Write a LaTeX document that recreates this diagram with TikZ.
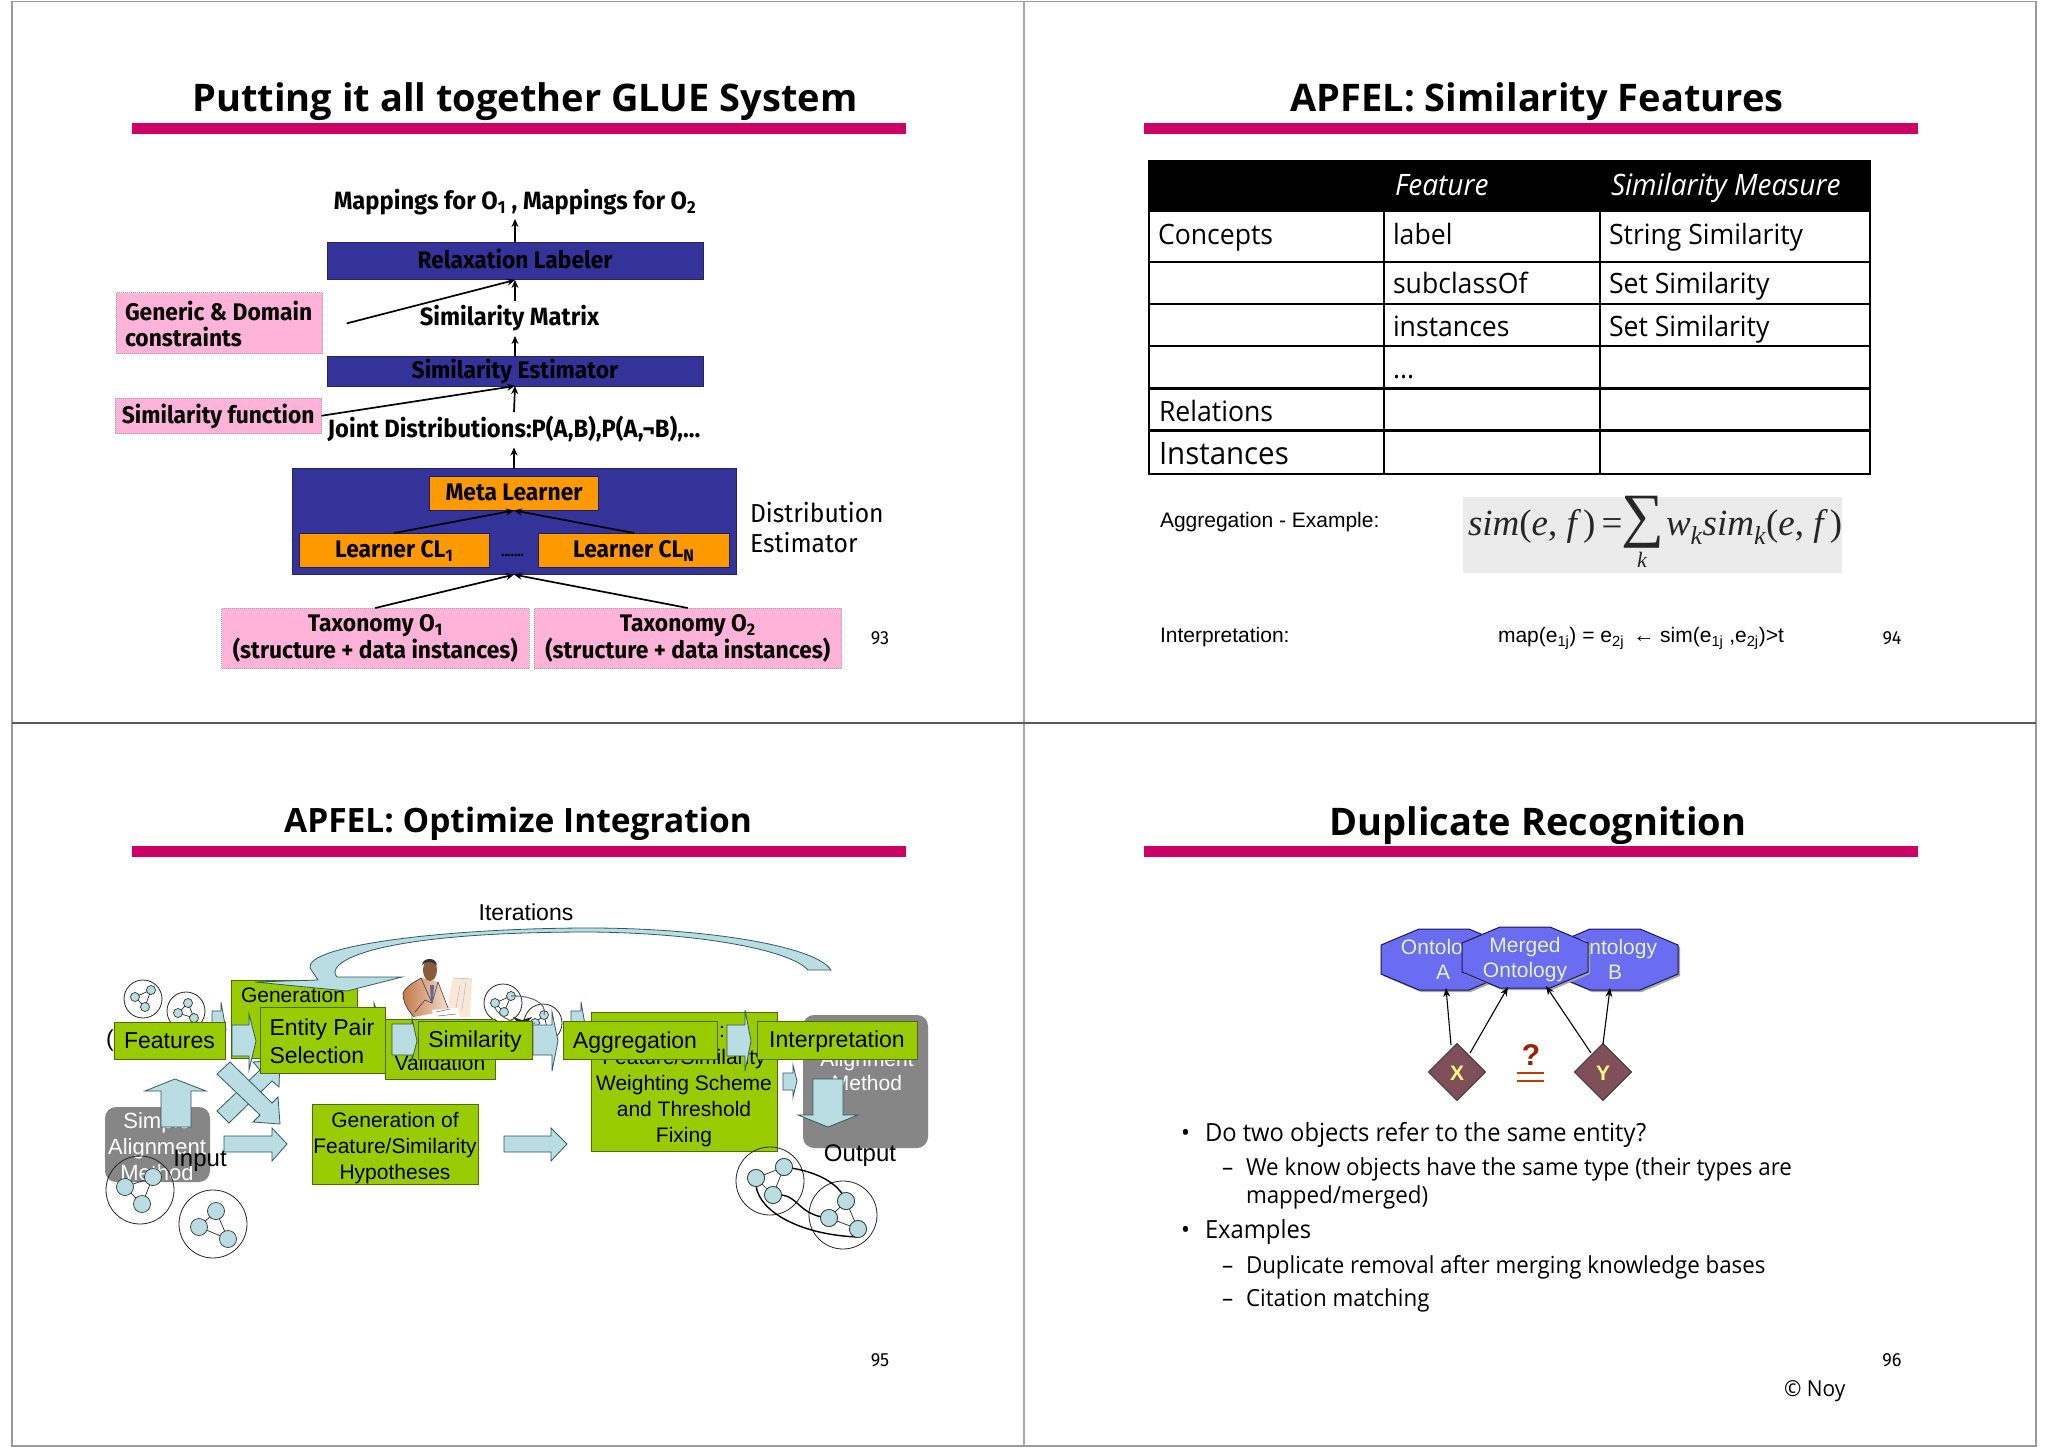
\documentclass[tikz,border=0pt]{standalone}
\usepackage{fontspec}
\usetikzlibrary{arrows.meta,calc}
\setmainfont{Liberation Sans}
\newfontfamily\titlef{Open Sans}
\newfontfamily\comicf[FakeStretch=0.95]{Fira Sans}
\newfontfamily\bodyf[FakeStretch=0.95]{Open Sans}
\newfontfamily\serf{Liberation Serif}
\newcommand\fs[2]{\fontsize{#1}{#2}\selectfont}
\newcommand\bx[6][]{\pgfmathsetmacro\bxcx{(#3+#5)/2}\pgfmathsetmacro\bxcy{(#4+#6)/2}%
 \pgfmathsetmacro\bxw{#5-#3}\pgfmathsetmacro\bxh{#6-#4}%
 \node[#1,minimum width=\bxw pt,minimum height=\bxh pt] (#2) at (\bxcx,\bxcy)}
\newcommand\ringgraph[9]{%
 \draw[ring] (#1,#2) circle (#3);
 \draw[gedge] (#4,#5) -- (#6,#7) -- (#8,#9) -- cycle;
 \node[gnode,minimum size=\rgsize] at (#4,#5) {};
 \node[gnode,minimum size=\rgsize] at (#6,#7) {};
 \node[gnode,minimum size=\rgsize] at (#8,#9) {};
}
\newcommand\octpts[2]{(#1-63,#2-16) -- (#1-25,#2-32) -- (#1+25,#2-32) -- (#1+63,#2-16) -- (#1+63,#2+13) -- (#1+25,#2+29) -- (#1-25,#2+29) -- (#1-63,#2+13) -- cycle}
\definecolor{barc}{HTML}{CC0066}
\definecolor{navy}{HTML}{333399}
\definecolor{orng}{HTML}{FF9900}
\definecolor{pnk}{HTML}{FFB3D9}
\definecolor{grn}{HTML}{99CC00}
\definecolor{grnl}{HTML}{4F6B00}
\definecolor{blk}{HTML}{B9DDE2}
\definecolor{blkl}{HTML}{2F5A62}
\definecolor{octc}{HTML}{6A6CF2}
\definecolor{octl}{HTML}{1A1A55}
\definecolor{octt}{HTML}{E4F2B8}
\definecolor{dia}{HTML}{80505A}
\definecolor{qc}{HTML}{992200}
\definecolor{jackl}{HTML}{C47A4C}
\definecolor{jackr}{HTML}{F3DCCB}
\definecolor{screen}{HTML}{F9E8D8}
\definecolor{skin}{HTML}{8A5A3C}
\tikzset{
 every node/.style={inner sep=0pt,outer sep=0pt},
 frameline/.style={draw=gray!80,line width=1.6pt},
 titlebar/.style={fill=barc,draw=none},
 titletext/.style={font=\titlef\bfseries\fs{38}{42},anchor=base},
 pageno/.style={font=\comicf\fs{19}{21}},
 single/.style={text height=15pt,text depth=0pt},
 navybox/.style={fill=navy,draw=navy!70!black,line width=1pt,font=\comicf\bfseries\fs{24}{26},single},
 orngbox/.style={fill=orng,draw=navy!60!black,line width=1pt,font=\comicf\bfseries\fs{24}{26},single},
 pinkbox/.style={fill=pnk,draw=gray!70,densely dotted,line width=1pt,font=\comicf\bfseries\fs{24}{25.5},align=center},
 plainlab/.style={font=\comicf\bfseries\fs{25}{26},single},
 arr/.style={draw=black,line width=1.7pt,-{Stealth[length=8pt,width=7pt]}},
 cell/.style={font=\bodyf\fs{28}{30},anchor=base west},
 hcell/.style={font=\bodyf\itshape\fs{29.5}{32},anchor=base west,text=white},
 rowthin/.style={line width=1.2pt},
 rowthick/.style={line width=2.4pt},
 arial/.style={font=\fs{21}{24},anchor=base west},
 form/.style={font=\serf\itshape\fs{37}{40},anchor=base west,text=black!85},
 gbox/.style={fill=grn,draw=grnl,line width=1pt,font=\fs{23}{29},single},
 gboxs/.style={fill=grn,draw=grnl,line width=1pt,font=\fs{21}{26}},
 txts/.style={font=\fs{21}{26},align=center},
 graybox/.style={fill=gray!95,rounded corners=11pt,draw=none},
 graytxt/.style={text=white,font=\fs{22}{26},align=center},
 barrow/.style={fill=blk,draw=blkl,line width=.8pt,line join=miter},
 ring/.style={draw=black!85,line width=.8pt},
 gnode/.style={circle,fill=blk,draw=black!80,line width=.7pt},
 gedge/.style={draw=black!85,line width=.7pt},
 oct/.style={fill=octc,draw=octl,line width=1pt},
 octshadow/.style={fill=gray!70,draw=none},
 octtxt/.style={text=octt,font=\fs{21}{25},align=center},
 diam/.style={fill=dia,draw=black!80,line width=1pt},
 arr4/.style={draw=black,line width=1.1pt,-{Stealth[length=9pt,width=7pt]}},
 bulleta/.style={font=\bodyf\fs{25}{28},anchor=base west},
 bulletb/.style={font=\bodyf\fs{23.5}{28},anchor=base west},
}
\begin{document}
\begin{tikzpicture}[x=1pt,y=-1pt]
\useasboundingbox (0,0) rectangle (2048,1447);
\fill[white] (0,0) rectangle (2048,1447);
% frames
\draw[frameline] (12,1.5) rectangle (2036,1446);
\draw[draw=gray!70,line width=2.2pt] (1024,1.5) -- (1024,1446);
\draw[draw=gray!70!black,line width=1.2pt] (12,723) -- (2036,723);
% title bars and titles
\fill[titlebar] (132,123) rectangle (906,134);
\fill[titlebar] (1144,123) rectangle (1918,134);
\fill[titlebar] (132,846) rectangle (906,857);
\fill[titlebar] (1144,846) rectangle (1918,857);
\node[titletext] (t1) at (525,112) {Putting it all together GLUE System};
\node[titletext] (t2) at (1537,112) {APFEL: Similarity Features};
\node[titletext] (t3) at (518,832) {\fs{33.5}{36}APFEL: Optimize Integration};
\node[titletext] (t4) at (1538,835) {Duplicate Recognition};
\node[pageno] (p93) at (880,638) {93};
\node[pageno] (p94) at (1892,638) {94};
\node[pageno] (p95) at (880,1360) {95};
\node[pageno] (p96) at (1892,1360) {96};
\node[font=\bodyf\fs{22}{24},anchor=base west] (noy) at (1784,1396) {© Noy};

% ---------- slide 1
\bx[plainlab]{map}{327}{185}{703}{219} {Mappings for O\textsubscript{1} , Mappings for O\textsubscript{2}};
\bx[navybox]{relax}{327}{243}{703}{280} {Relaxation Labeler};
\bx[plainlab]{matrix}{327}{301}{692}{336} {Similarity Matrix};
\bx[navybox]{simest}{327}{356}{703}{386} {Similarity Estimator};
\bx[plainlab]{joint}{326}{412}{702}{447.5} {Joint Distributions:P(A,B),P(A,¬B),…};
\bx[fill=navy,draw=navy!70!black,line width=1pt]{dist}{292}{468.5}{736}{574.6} {};
\bx[orngbox]{meta}{429.5}{476}{598.5}{510.5} {Meta Learner};
\bx[orngbox]{cl1}{299.5}{533}{489}{567} {Learner CL\textsubscript{1}};
\bx[orngbox]{cln}{538.7}{533}{729}{567} {Learner CL\textsubscript{N}};
\node[font=\comicf\bfseries\fs{14}{16},text=black] (dots) at (512.5,555) {.......};
\bx[pinkbox]{tax1}{221.6}{608}{529}{668.5} {Taxonomy O\textsubscript{1}\\(structure + data instances)};
\bx[pinkbox]{tax2}{534}{608}{841.5}{668.5} {Taxonomy O\textsubscript{2}\\(structure + data instances)};
\bx[pinkbox]{gen}{116}{293}{322.6}{353.5} {};
\node[font=\comicf\bfseries\fs{24}{26},align=left,anchor=west] (gent) at (125,324) {Generic \& Domain\\constraints};
\bx[pinkbox,single]{simfun}{115}{398}{321.5}{433.5} {Similarity function};
\node[font=\comicf\fs{26}{30},align=left,anchor=west] (dest) at (750,528) {Distribution\\Estimator};
\coordinate (genend) at (346.7,323.4);
\draw[arr] (relax.south |- matrix.north) -- (relax.south);
\draw[arr] (relax.north) -- (map.south);
\draw[arr] (simest.north) -- (relax.south |- matrix.south);
\draw[arr] (joint.north) -- (simest.south);
\draw[arr] (dist.north) -- (joint.south);
\draw[arr] (cl1.north) -- (meta.south);
\draw[arr] (cln.north) -- (meta.south);
\draw[arr] (tax1.north) -- (dist.south);
\draw[arr] (tax2.north) -- (dist.south);
\draw[arr] (simfun.east) -- (simest.south);
\draw[arr] (genend) -- (relax.south);

% ---------- slide 2
\fill[black] (1149,161) rectangle (1870,212);
\draw[line width=2.6pt] (1149,161) rectangle (1870,474);
\draw[rowthin] (1384,212) -- (1384,474);
\draw[rowthin] (1600,212) -- (1600,474);
\draw[rowthin] (1149,262) -- (1870,262);
\draw[rowthick] (1149,304) -- (1870,304);
\draw[rowthick] (1149,346) -- (1870,346);
\draw[rowthick] (1149,388.5) -- (1870,388.5);
\draw[rowthick] (1149,430.5) -- (1870,430.5);
\node[hcell] (hf) at (1395,196) {Feature};
\node[hcell] (hs) at (1611,196) {Similarity Measure};
\node[cell] (c1) at (1158,245) {Concepts};
\node[cell] (c2) at (1393,245) {label};
\node[cell] (c3) at (1609,245) {String Similarity};
\node[cell] (c4) at (1393,294) {subclassOf};
\node[cell] (c5) at (1609,294) {Set Similarity};
\node[cell] (c6) at (1393,336) {instances};
\node[cell] (c7) at (1609,336) {Set Similarity};
\node[cell] (c8) at (1393,378) {...};
\node[cell] (c9) at (1159,421) {Relations};
\node[cell,font=\bodyf\fs{31}{33}] (c10) at (1159,464) {Instances};
\node[arial] (agg) at (1160,527) {Aggregation - Example:};
\fill[black!8] (1463,496.6) rectangle (1842,573);
\node[form] (f1) at (1468,535) {sim\upshape(\itshape e\upshape, \itshape f\,\upshape)\,=};
\node[font=\serf\fs{60}{62},text=black!85] (fsum) at (1643,522) {∑};
\node[font=\serf\itshape\fs{22}{24},text=black!85] (fk) at (1642,560) {k};
\node[form] (f2) at (1666,535) {w\textsubscript{k}sim\textsubscript{k}\upshape(\itshape e\upshape, \itshape f\,\upshape)};
\node[arial] (interp) at (1160,642.5) {Interpretation:};
\node[arial] (mapf) at (1498,642.5) {map(e\textsubscript{1j}) = e\textsubscript{2j} \,← sim(e\textsubscript{1j} ,e\textsubscript{2j})>t};

% ---------- slide 3
% left gray box
\bx[graybox]{gray1}{105}{1107}{210}{1182} {};
\node[graytxt] (gray1t) at (157,1147) {Simple\\Alignment\\Method};
% ring graphs
\def\rgsize{9pt}
\ringgraph{143}{999}{19}{135}{997}{151}{990}{145}{1007}
\ringgraph{186}{1011}{19}{188}{1003}{178}{1013}{194}{1018}
\ringgraph{503}{1003}{19}{495}{1003}{511}{996}{504}{1012}
\ringgraph{543}{1023}{19}{544}{1015}{535}{1023}{548}{1032}
\draw[draw=gray!80!black,line width=1pt] (511,996) .. controls (530,995) and (548,1003) .. (544,1015);
\draw[draw=gray!80!black,line width=1pt] (495,1008) .. controls (500,1018) and (515,1025) .. (535,1023);
\fill[black!85] (513,1017) -- (522,1020) -- (532,1017) -- (527,1023) -- (518,1023) -- cycle;
\def\rgsize{17pt}
\ringgraph{140}{1190}{34}{125}{1187}{153}{1177}{142}{1204}
\ringgraph{213}{1224}{34}{216}{1211}{199}{1227}{228}{1239}
\draw[barrow] (161,1127) -- (161,1091) -- (145,1091) -- (175,1079) -- (206,1091) -- (191,1091) -- (191,1127) -- cycle;
\node[font=\fs{24}{26}] (inp) at (200,1161) {Input};
% back boxes
\bx[gboxs]{gena}{231}{980}{357}{1058} {};
\node[font=\fs{21}{24}] (genat) at (293,995) {Generation};
\bx[gboxs]{valid}{385}{1019}{495}{1079} {};
\node[font=\fs{21}{24}] (validt) at (440,1063) {Validation};
\bx[gboxs]{hypo}{312}{1104}{478}{1184} {};
\node[txts] (hypot) at (395,1148.5) {Generation of\\Feature/Similarity\\Hypotheses};
\bx[gboxs]{wgt}{591}{1012}{777}{1151} {};
\node[txts] (wgtt) at (684,1098) {Feature/Similarity\\Weighting Scheme\\and Threshold\\Fixing};
\node[font=\fs{21}{24}] (colon) at (722,1032) {:};
\bx[graybox]{gray2}{803}{1015}{928}{1148} {};
\node[graytxt,font=\fs{21}{24}] (gray2t) at (867,1071) {Alignment\\Method};
\node[font=\fs{24}{26}] (outp) at (860,1156) {Output};
% iteration arrow
\node[font=\fs{23}{26}] (iter) at (526,912) {Iterations};
\draw[barrow] (831,970) .. controls (815,945) and (700,928) .. (590,928)
  .. controls (450,928) and (305,945) .. (310,968) -- (318,980) -- (255,982) -- (347,991) -- (402,977) -- (337,977)
  .. controls (325,965) and (360,932) .. (590,932)
  .. controls (700,933) and (790,950) .. (808,970) -- cycle;
% cross arrows
\draw[barrow] (217,1111) -- (260,1070) -- (253,1062) -- (280,1060) -- (279,1087) -- (272,1081) -- (229,1123) -- cycle;
\draw[barrow] (230,1062) -- (272,1103) -- (278,1097) -- (280,1124) -- (253,1122) -- (260,1115) -- (217,1074) -- cycle;
\draw[barrow] (224,1136) -- (272,1136) -- (272,1128) -- (287,1144) -- (272,1161) -- (272,1152) -- (224,1152) -- cycle;
\draw[barrow] (504,1136) -- (551,1136) -- (551,1128) -- (567,1144) -- (551,1161) -- (551,1152) -- (504,1152) -- cycle;
% thin arrows
\draw[barrow] (212,1011) -- (221,1011) -- (221,1002) -- (226,1030) -- (212,1030) -- cycle;
\draw[barrow] (571,1011) -- (581,1011) -- (581,1002) -- (586,1030) -- (571,1030) -- cycle;
\draw[barrow] (374,1012) -- (374,1003) -- (377,1012) -- cycle;
\draw[barrow] (232,1025) -- (249,1025) -- (249,1014) -- (256,1041) -- (249,1070) -- (249,1056) -- (232,1056) -- cycle;
\draw[barrow] (392,1024) -- (412,1024) -- (412,1018) -- (417,1041) -- (412,1060) -- (412,1055) -- (392,1055) -- cycle;
\draw[barrow] (533,1025) -- (552,1025) -- (552,1012) -- (558,1041) -- (552,1071) -- (552,1055) -- (533,1055) -- cycle;
\draw[barrow] (727,1025) -- (745,1025) -- (745,1010) -- (751,1041) -- (745,1071) -- (745,1056) -- (727,1056) -- cycle;
\draw[barrow] (783,1073) -- (793,1073) -- (793,1065) -- (797,1081) -- (793,1097) -- (793,1090) -- (783,1090) -- cycle;
\draw[barrow] (813,1079) -- (843,1079) -- (843,1115) -- (858,1115) -- (828,1127) -- (798,1115) -- (813,1115) -- cycle;
% man at computer
\fill[screen] (453,978) -- (472,979) -- (470,1017) -- (448,1017) .. controls (448,1000) and (450,988) .. (453,978) -- cycle;
\draw[gray!50,line width=.6pt] (453,978) -- (472,979);
\draw[gray!50,line width=.6pt] (460,985) -- (456,1008);
\draw[gray!50,line width=.6pt] (466,982) -- (462,1010);
\shade[left color=jackl,right color=jackr] (403,993) .. controls (407,985) and (415,982) .. (421,978) -- (438,982) -- (448,1008) -- (440,1012) -- (414,1017) .. controls (408,1010) and (403,1003) .. (403,993) -- cycle;
\draw[black!75,line width=.7pt] (403,993) .. controls (407,985) and (415,982) .. (421,978);
\draw[black!75,line width=.7pt] (403,993) .. controls (403,1003) and (408,1010) .. (414,1017);
\draw[black!75,line width=.6pt] (438,982) -- (448,1008);
\draw[black!75,line width=.6pt] (421,978) -- (432,1003) -- (438,982);
\draw[black!75,line width=.6pt] (415,1012) -- (425,1000) -- (432,1003);
\fill[blue!20!gray] (430,985) -- (434,985) -- (433,1002) -- (431,1002) -- cycle;
\fill[white] (432,1010) -- (458,1008) -- (460,1017) -- (434,1018) -- cycle;
\draw[black!60,line width=.5pt] (436,1012) -- (450,1009) (438,1016) -- (456,1014);
\fill[skin] (430,970) ellipse (7 and 11);
\fill[black!80] (422,965) .. controls (423,957) and (436,957) .. (437,965) .. controls (432,961) and (426,961) .. (422,965) -- cycle;
% circle graphs output
\ringgraph{770}{1181}{34}{756}{1178}{784}{1167}{773}{1195}
\ringgraph{843}{1215}{34}{846}{1201}{829}{1218}{858}{1229}
\draw[line width=1.4pt] (784,1167) .. controls (810,1170) and (838,1180) .. (846,1201);
\draw[line width=1.4pt] (773,1195) .. controls (800,1192) and (795,1215) .. (829,1218);
\draw[line width=1.4pt] (756,1178) .. controls (752,1210) and (800,1235) .. (858,1237);
\foreach \px/\py in {756/1178,784/1167,773/1195,846/1201,829/1218,858/1229} \node[gnode,minimum size=17pt] at (\px,\py) {};
% front boxes
\node[font=\fs{23}{26}] (paren) at (110,1041) {(};
\bx[gbox]{fea}{114}{1022}{225}{1059} {Features};
\bx[gboxs]{ent}{260}{1007}{385}{1073} {};
\node[font=\fs{23}{28},align=left,anchor=west] (entt) at (269.5,1041) {Entity Pair\\Selection};
\bx[gbox]{sim}{418}{1021}{532}{1059} {Similarity};
\bx[gboxs]{agr}{563}{1021}{717}{1059} {};
\node[font=\fs{23}{26},text height=15pt,text depth=0pt] (agrt) at (635,1041) {Aggregation};
\bx[gbox]{int}{757}{1021}{917}{1059} {Interpretation};

% ---------- slide 4
\fill[octshadow,shift={(2,2)}] \octpts{1444}{961};
\draw[oct] \octpts{1444}{961};
\node[octtxt] (onta) at (1443,959.5) {Ontology\\A};
\fill[octshadow,shift={(2,2)}] \octpts{1615}{961};
\draw[oct] \octpts{1615}{961};
\node[octtxt] (ontb) at (1615,959.5) {Ontology\\B};
\fill[octshadow,shift={(2,2)}] \octpts{1525}{959};
\draw[oct] \octpts{1525}{959};
\node[octtxt] (ontm) at (1525,960) {Merged\\Ontology};
\coordinate (aend) at (1446,988);
\coordinate (m1end) at (1508,987);
\coordinate (m2end) at (1546,986);
\coordinate (bend) at (1610,988);
\draw[diam] (1457,1043.5) -- (1485.5,1072) -- (1457,1100.5) -- (1428.5,1072) -- cycle;
\draw[diam] (1603,1043.5) -- (1631.5,1072) -- (1603,1100.5) -- (1574.5,1072) -- cycle;
\node[font=\bfseries\fs{21}{24},text=yellow!50!white] (x) at (1457,1073) {X};
\node[font=\bfseries\fs{21}{24},text=yellow!50!white] (y) at (1603,1073) {Y};
\draw[arr4] (1451,1045) -- (aend);
\draw[arr4] (1470,1053) -- (m1end);
\draw[arr4] (1591,1053) -- (m2end);
\draw[arr4] (1603,1044) -- (bend);
\node[font=\bfseries\fs{30}{32},text=qc] (q) at (1531,1055) {?};
\draw[draw=qc!70!orange,line width=2pt] (1517,1073) -- (1544,1073);
\draw[draw=qc!70!orange,line width=2pt] (1517,1081) -- (1544,1081);
\node[bulleta] (b1) at (1181,1141) {•};
\node[bulleta] (b1t) at (1205,1141) {Do two objects refer to the same entity?};
\node[bulletb] (d1) at (1222,1175) {–};
\node[bulletb] (d1t) at (1246,1175) {We know objects have the same type (their types are};
\node[bulletb] (d1u) at (1246,1203) {mapped/merged)};
\node[bulleta] (b2) at (1181,1238) {•};
\node[bulleta] (b2t) at (1205,1238) {Examples};
\node[bulletb] (d2) at (1222,1273) {–};
\node[bulletb] (d2t) at (1246,1273) {Duplicate removal after merging knowledge bases};
\node[bulletb] (d3) at (1222,1306) {–};
\node[bulletb] (d3t) at (1246,1306) {Citation matching};
\end{tikzpicture}
\end{document}
